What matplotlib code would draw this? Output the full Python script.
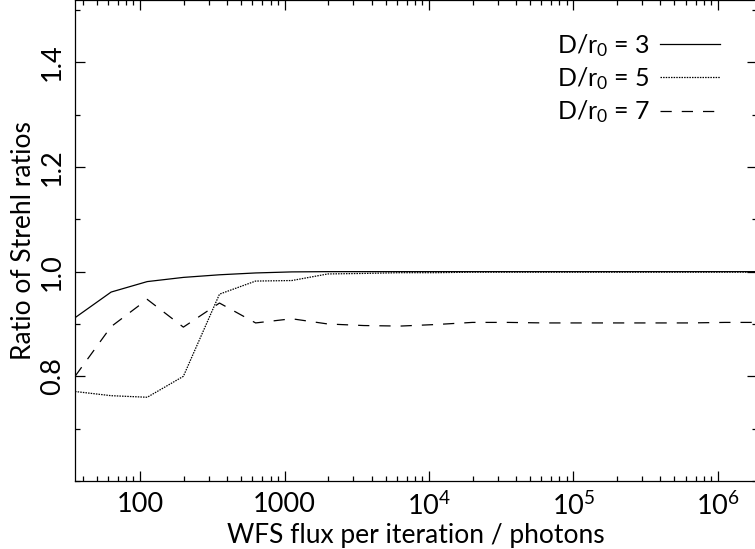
import math
import matplotlib
matplotlib.use('Agg')
import matplotlib.pyplot as plt
from matplotlib.ticker import FixedLocator, LogLocator, NullFormatter, FuncFormatter, MultipleLocator

plt.rcParams['font.family'] = ['Lato', 'DejaVu Sans']
plt.rcParams['mathtext.fontset'] = 'custom'
plt.rcParams['mathtext.rm'] = 'Lato'
plt.rcParams['mathtext.it'] = 'Lato'

# flux per iteration (photons), quarter-decade steps
flux = [35.5, 63.1, 112.2, 199.5, 354.8, 631.0, 1122, 1995, 3548, 6310,
        11220, 19950, 35480, 63100, 112200, 199500, 354800, 631000,
        1122000, 1995000]

strehl_3 = [0.912, 0.961, 0.981, 0.989, 0.994, 0.9975, 0.9995, 1.0, 1.0, 1.0,
            1.0, 1.0, 1.0, 1.0, 1.0, 1.0, 1.0, 1.0, 1.0, 1.0]
strehl_5 = [0.771, 0.763, 0.760, 0.800, 0.957, 0.982, 0.983, 0.9956, 0.9966, 0.998,
            0.998, 0.999, 0.999, 0.999, 0.999, 0.999, 0.999, 0.999, 0.999, 0.999]
strehl_7 = [0.800, 0.895, 0.947, 0.894, 0.940, 0.902, 0.910, 0.900, 0.897, 0.896,
            0.899, 0.903, 0.903, 0.902, 0.902, 0.902, 0.902, 0.902, 0.903, 0.903]

labels = ['D/r$_0$ = 3', 'D/r$_0$ = 5', 'D/r$_0$ = 7']

fig = plt.figure(figsize=(7.55, 5.49), dpi=100)
ax = fig.add_axes([75 / 755, 68 / 549, 682 / 755, 481 / 549])

ax.plot(flux, strehl_3, color='black', lw=0.9, label=labels[0])
ax.plot(flux, strehl_5, color='black', lw=0.9, dashes=(1.2, 0.9), label=labels[1])
ax.plot(flux, strehl_7, color='black', lw=0.9, dashes=(9, 8), label=labels[2])

ax.set_xscale('log')
ax.set_xlim(10 ** 1.55, 10 ** 6.27)
ax.set_ylim(0.6, 1.519)

def flux_label(v, pos):
    if v < 5000:
        return '%d' % round(v)
    return '10$^{%d}$' % round(math.log10(v))

ax.xaxis.set_major_locator(FixedLocator([100, 1000, 1e4, 1e5, 1e6]))
ax.xaxis.set_major_formatter(FuncFormatter(flux_label))
ax.xaxis.set_minor_locator(LogLocator(base=10, subs=range(2, 10), numticks=20))
ax.xaxis.set_minor_formatter(NullFormatter())

ax.yaxis.set_major_locator(FixedLocator([0.8, 1.0, 1.2, 1.4]))
ax.yaxis.set_major_formatter(FuncFormatter(lambda v, p: '%.1f' % v))
ax.yaxis.set_minor_locator(MultipleLocator(0.1))

ax.tick_params(which='both', direction='in', top=True, right=True, width=0.9, labelsize=19.5)
ax.tick_params(which='major', length=7)
ax.tick_params(which='minor', length=3.5)
ax.tick_params(axis='x', pad=8)
ax.tick_params(axis='y', pad=7)
for t in ax.get_yticklabels():
    t.set_rotation(90)
    t.set_va('center')

for s in ax.spines.values():
    s.set_linewidth(0.9)

ax.set_xlabel('WFS flux per iteration / photons', fontsize=19, labelpad=2)
ax.set_ylabel('Ratio of Strehl ratios', fontsize=19, labelpad=3)

ax.legend(loc='upper right', bbox_to_anchor=(730 / 755, 1 - 22 / 549),
          bbox_transform=fig.transFigure, frameon=False, markerfirst=False,
          fontsize=18, handlelength=2.4, handletextpad=0.4, labelspacing=0.25,
          borderaxespad=0)

fig.savefig('out.png', dpi=100)
